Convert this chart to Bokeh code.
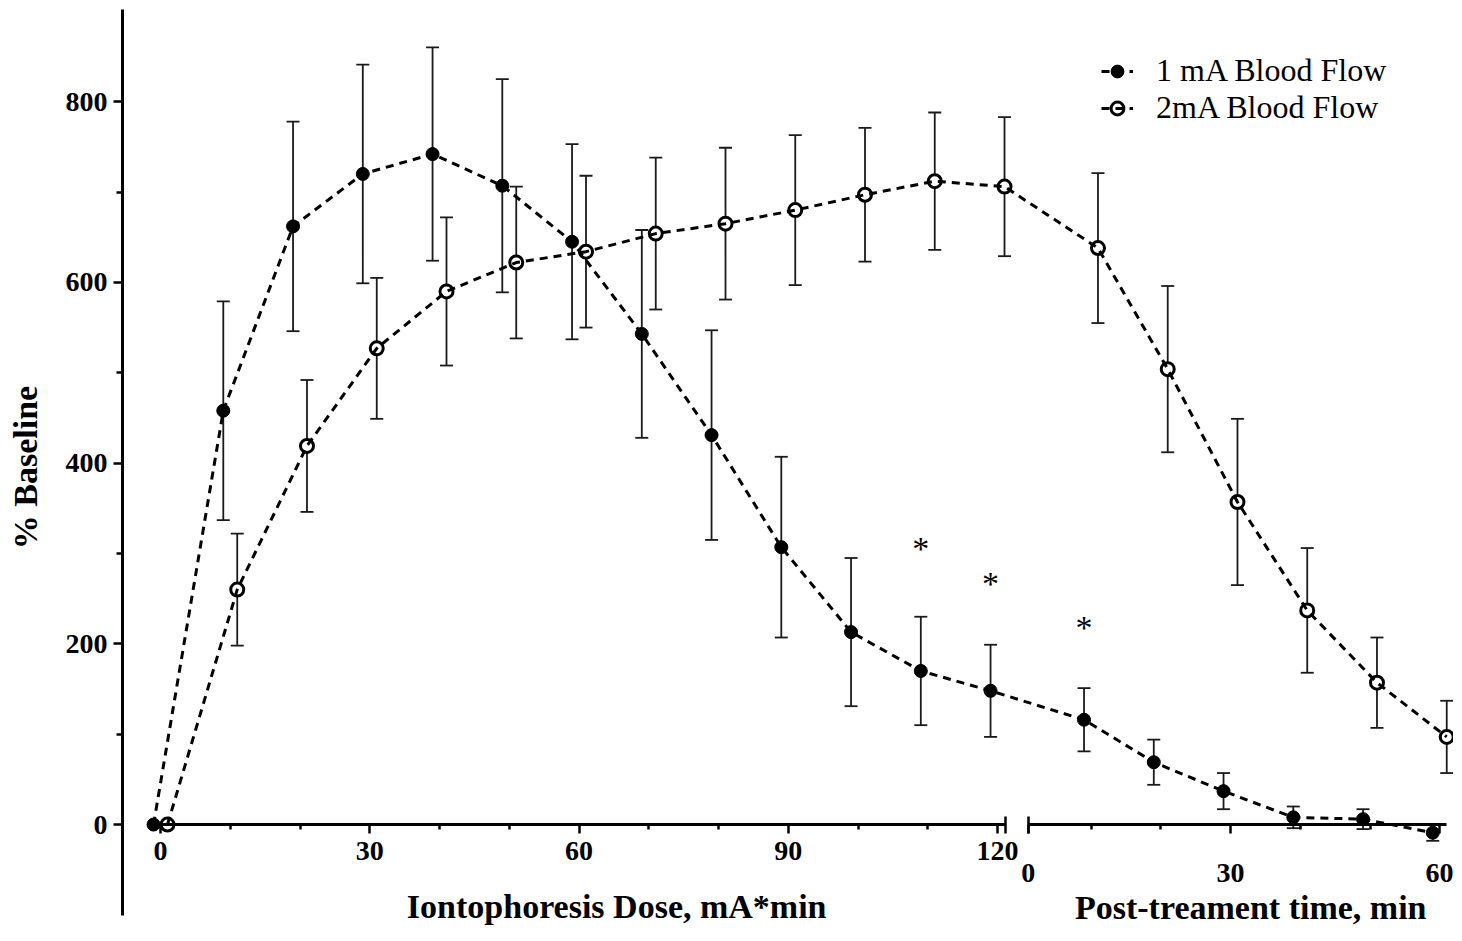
from bokeh.plotting import figure
from bokeh.models import (Range1d, LinearAxis, FixedTicker, Whisker, TeeHead,
                          ColumnDataSource, Legend, LegendItem, Label,
                          CustomJSTickFormatter)
from bokeh.core.properties import value
from bokeh.embed import file_html
from bokeh.resources import INLINE

# ---------------- data ----------------
dose = [0, 10, 20, 30, 40, 50, 60, 70, 80, 90, 100, 110, 120]          # mA*min
post_time = [10, 20, 30, 40, 50, 60]                                      # min

flow_1mA_dose = [0, 458, 662, 720, 742, 707, 645, 543, 431, 307, 213, 170, 148]
sem_1mA_dose = [0, 121, 116, 121, 118, 118, 108, 115, 116, 100, 82, 60, 51]
flow_1mA_post = [116, 69, 37, 8, 6, -9]
sem_1mA_post = [35, 25, 20, 12, 11, 9]

flow_2mA_dose = [0, 260, 419, 527, 590, 622, 634, 654, 665, 680, 697, 712, 706]
sem_2mA_dose = [0, 62, 73, 78, 82, 84, 84, 84, 84, 83, 74, 76, 77]
flow_2mA_post = [638, 504, 357, 237, 157, 97]
sem_2mA_post = [83, 92, 92, 69, 50, 40]

# significance marks (on the 1 mA series)
star_dose = [110, 120]
star_dose_y = [309, 270]
star_post = [10]
star_post_y = [221]

y_major = [0, 200, 400, 600, 800]
y_minor = [100, 300, 500, 700]
dose_major = [0, 30, 60, 90, 120]
dose_minor = [10, 20, 40, 50, 70, 80, 100, 110]
post_major = [0, 30, 60]
post_minor = [10, 20, 40, 50]

# ---------------- layout constants ----------------
POST_OFFSET = 123.4   # where post-treatment time 0 sits on the shared x scale
DODGE = 1.0           # horizontal dodge between the two series
FONT = "Liberation Serif"


def dose_pos(vals, shift):
    return [v + shift for v in vals]


def post_pos(vals, shift):
    return [POST_OFFSET + v + shift for v in vals]


x1 = dose_pos(dose, -DODGE) + post_pos(post_time, -DODGE)
y1 = flow_1mA_dose + flow_1mA_post
e1 = sem_1mA_dose + sem_1mA_post
x2 = dose_pos(dose, DODGE) + post_pos(post_time, DODGE)
y2 = flow_2mA_dose + flow_2mA_post
e2 = sem_2mA_dose + sem_2mA_post

src1 = ColumnDataSource(dict(x=x1, y=y1, lower=[a - b for a, b in zip(y1, e1)],
                             upper=[a + b for a, b in zip(y1, e1)]))
src2 = ColumnDataSource(dict(x=x2, y=y2, lower=[a - b for a, b in zip(y2, e2)],
                             upper=[a + b for a, b in zip(y2, e2)]))

p = figure(width=1453, height=925,
           x_range=Range1d(-5.45, 185.37), y_range=Range1d(-111.7, 902),
           x_axis_type=None, y_axis_type=None,
           output_backend="svg", toolbar_location=None,
           min_border_left=122, min_border_right=0,
           min_border_top=9, min_border_bottom=0)
p.outline_line_color = None
p.background_fill_color = "white"

# ---------------- error bars ----------------
for src in (src1, src2):
    w = Whisker(source=src, base="x", lower="lower", upper="upper",
                line_color="#1a1a1a", line_width=1.8, level="underlay",
                upper_head=TeeHead(size=13, line_width=1.8, line_color="#1a1a1a"),
                lower_head=TeeHead(size=13, line_width=1.8, line_color="#1a1a1a"))
    p.add_layout(w)

# ---------------- series ----------------
s1 = p.scatter("x", "y", source=src1, size=13, marker="circle",
               fill_color="black", line_color="black", line_width=1)
s2 = p.scatter("x", "y", source=src2, size=13, marker="circle",
               fill_color="white", line_color="black", line_width=3)
l1 = p.line("x", "y", source=src1, line_color="black", line_width=3, line_dash="8 6")
l2 = p.line("x", "y", source=src2, line_color="black", line_width=3, line_dash="8 6")

# ---------------- asterisks ----------------
star_x = dose_pos(star_dose, -DODGE) + post_pos(star_post, -DODGE)
star_y = star_dose_y + star_post_y
p.text(x=star_x, y=star_y, text=["*"] * len(star_x),
       text_font=value(FONT), text_font_size="34px", text_color="black",
       text_align="center", text_baseline="middle", y_offset=3)

# ---------------- y axis ----------------
yaxis = LinearAxis(ticker=FixedTicker(ticks=y_major, minor_ticks=y_minor),
                   bounds=(-100.7, 902),
                   axis_label="% Baseline",
                   axis_label_text_font=FONT, axis_label_text_font_style="bold",
                   axis_label_text_font_size="34px", axis_label_text_color="black",
                   axis_label_standoff=19,
                   major_label_text_font=FONT, major_label_text_font_style="bold",
                   major_label_text_font_size="28px", major_label_text_color="black",
                   major_label_standoff=6,
                   axis_line_width=3, axis_line_color="black",
                   major_tick_in=0, major_tick_out=9, major_tick_line_width=2.5,
                   minor_tick_in=0, minor_tick_out=6, minor_tick_line_width=2.5)
p.add_layout(yaxis, "left")

# ---------------- x axes (broken, sitting on y = 0) ----------------
common = dict(fixed_location=0,
              major_label_text_font=FONT, major_label_text_font_style="bold",
              major_label_text_font_size="28px", major_label_text_color="black",
              axis_line_width=3, axis_line_color="black",
              major_tick_in=0, major_tick_out=9, major_tick_line_width=2.5,
              minor_tick_in=0, minor_tick_out=5, minor_tick_line_width=2.5)

xaxis_dose = LinearAxis(ticker=FixedTicker(ticks=dose_major, minor_ticks=dose_minor),
                        bounds=(-1.0, 121.1), major_label_standoff=8, **common)
p.add_layout(xaxis_dose, "below")

post_ticks = [POST_OFFSET + (t if t > 0 else 1) for t in post_major]
post_minor_ticks = [POST_OFFSET + t for t in post_minor]
xaxis_post = LinearAxis(ticker=FixedTicker(ticks=post_ticks, minor_ticks=post_minor_ticks),
                        bounds=(POST_OFFSET + 1, POST_OFFSET + 61),
                        major_label_standoff=30,
                        formatter=CustomJSTickFormatter(
                            args=dict(off=POST_OFFSET),
                            code="const t = Math.round(tick - off); return t <= 1 ? '0' : String(t);"),
                        **common)
p.add_layout(xaxis_post, "below")

# end caps at the axis break
cap_axis = LinearAxis(ticker=FixedTicker(ticks=[121.1, POST_OFFSET + 1], minor_ticks=[]),
                      fixed_location=0, axis_line_color=None,
                      major_tick_in=8, major_tick_out=9, major_tick_line_width=2.5,
                      major_tick_line_color="black",
                      major_label_text_alpha=0, major_label_text_font_size="10px",
                      minor_tick_line_color=None)
p.add_layout(cap_axis, "below")

# axis titles
p.add_layout(Label(x=65.4, y=-90.5, text="Iontophoresis Dose, mA*min",
                   text_font=FONT, text_font_style="bold", text_font_size="34px",
                   text_color="black", text_align="center", text_baseline="middle"))
p.add_layout(Label(x=156.3, y=-92.0, text="Post-treament time, min",
                   text_font=FONT, text_font_style="bold", text_font_size="34px",
                   text_color="black", text_align="center", text_baseline="middle"))

# ---------------- legend ----------------
legend = Legend(items=[LegendItem(label="1 mA Blood Flow", renderers=[s1, l1]),
                       LegendItem(label="2mA Blood Flow", renderers=[s2, l2])],
                location=(979, 799), orientation="vertical",
                background_fill_alpha=0, border_line_color=None,
                padding=0, margin=0, spacing=0,
                glyph_width=32, glyph_height=34, label_height=34, label_standoff=23,
                label_text_font=FONT, label_text_font_size="32px",
                label_text_color="black")
p.add_layout(legend)

open("out.html", "w").write(file_html(p, INLINE))
